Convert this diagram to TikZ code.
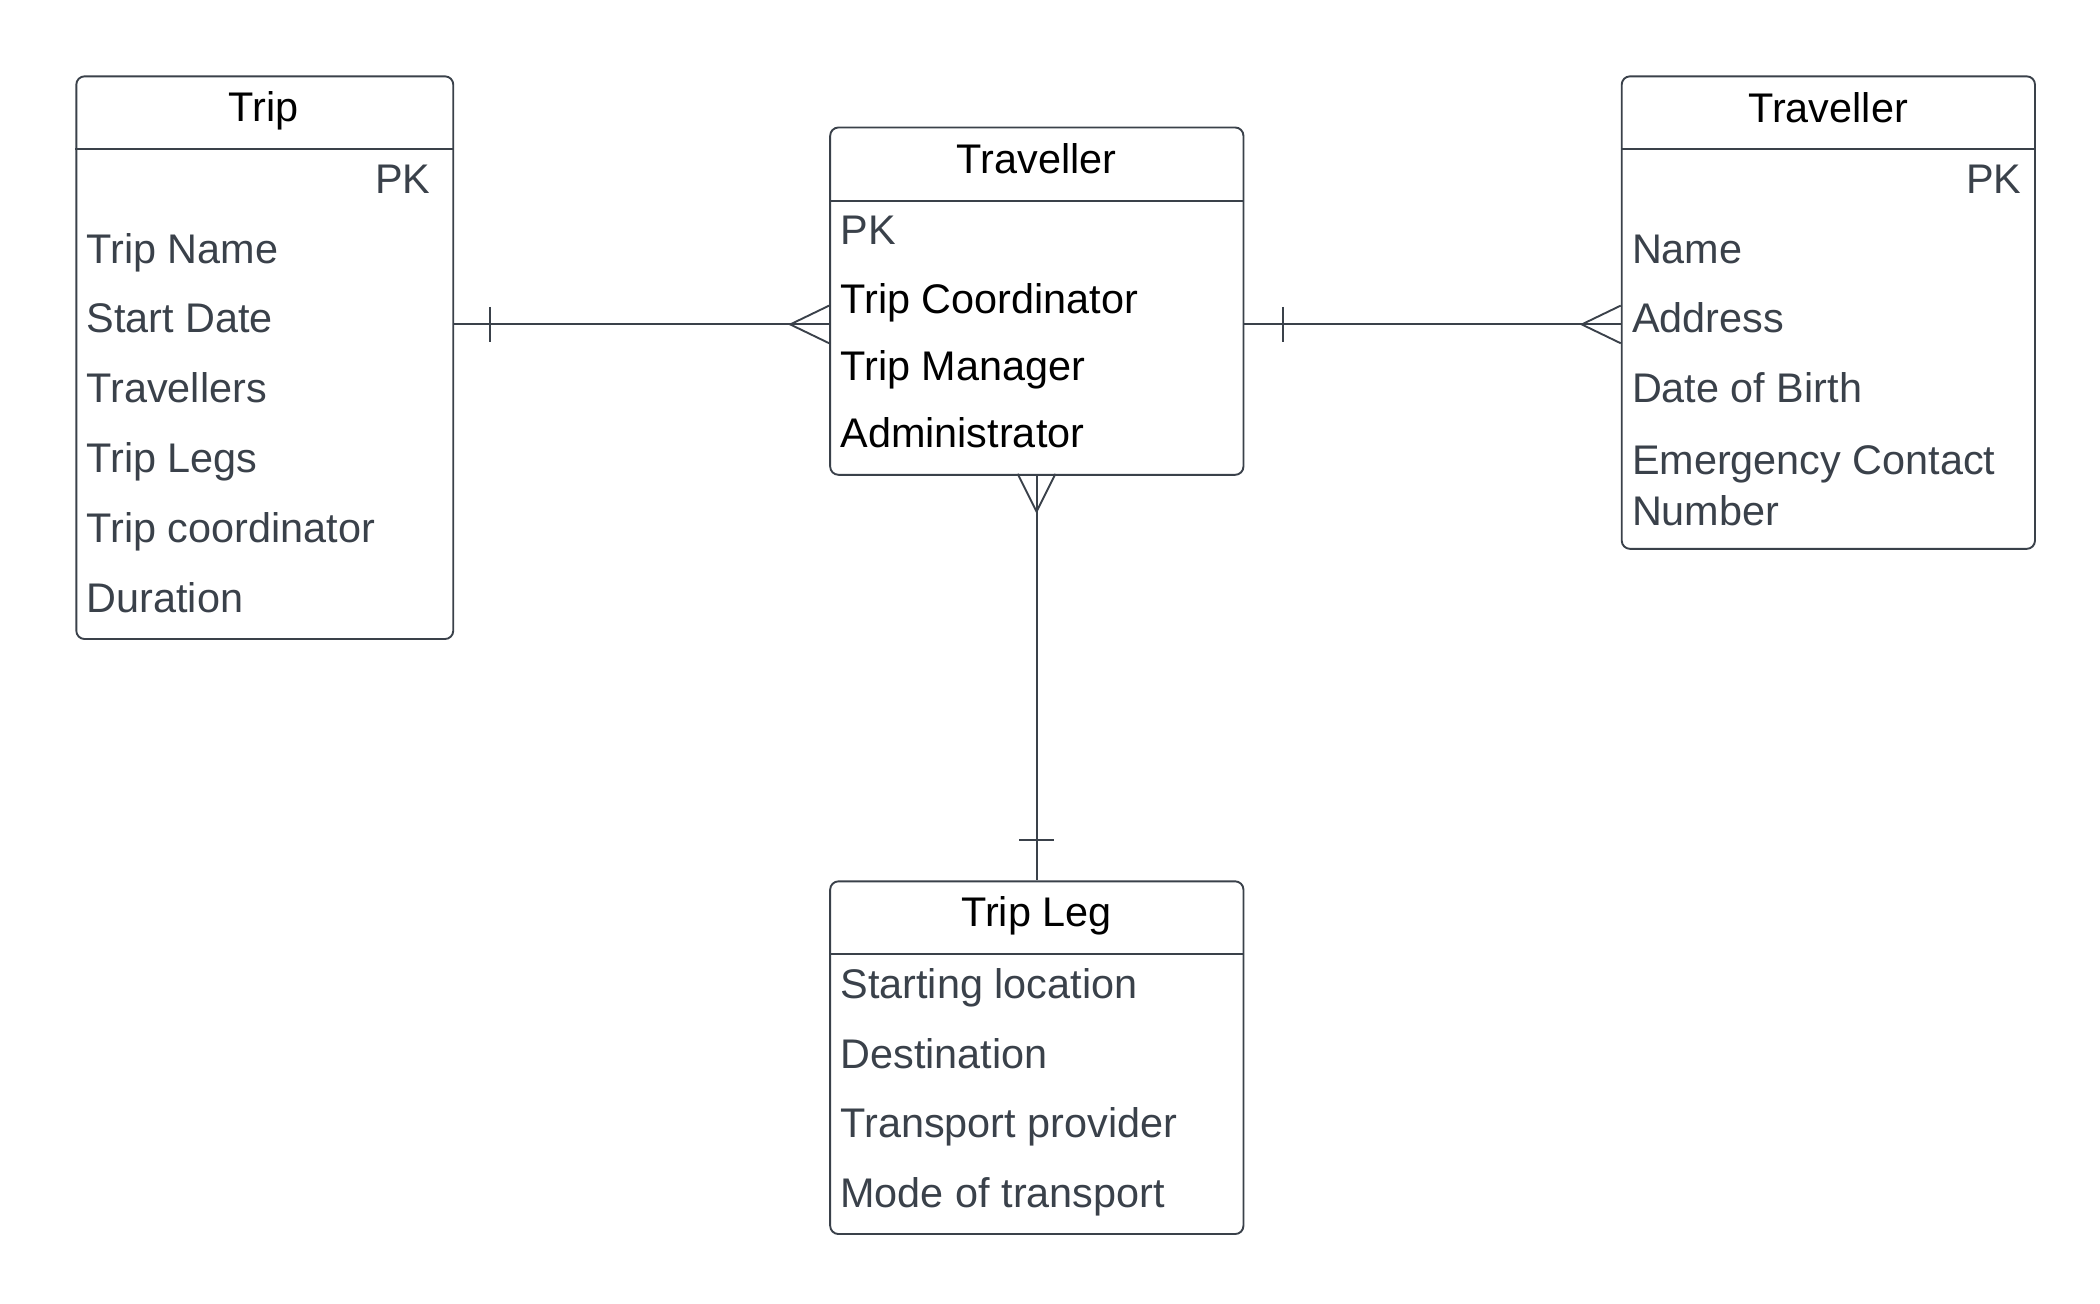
\documentclass[tikz,border=0pt]{standalone}
\usepackage{fontspec}
\setmainfont{Liberation Sans}
\usepackage{tikz}
\definecolor{lineclr}{HTML}{3A414A}
\definecolor{textclr}{HTML}{3A414A}

\begin{document}
\begin{tikzpicture}[scale=0.2]
\tikzstyle{every node}+=[inner sep=0pt, font=\fontsize{17.5}{21.4}\selectfont]
\tikzstyle{entity}=[draw=lineclr, line width=0.8pt, rounded corners=3.5pt, anchor=north west, minimum width=6.14cm]
\tikzstyle{field}=[text=textclr, anchor=mid west]
\tikzstyle{conn}=[draw=lineclr, line width=0.8pt]
\useasboundingbox (0,0) rectangle (156,-96.8);
% entity boxes
\node [entity, minimum width=5.6cm, minimum height=8.36cm] (trip) at (5.6,-5.6) {};
\node [entity, minimum height=5.16cm] (trav) at (61.6,-9.4) {};
\node [entity, minimum height=7.02cm] (travr) at (120.4,-5.6) {};
\node [entity, minimum height=5.24cm] (leg) at (61.6,-65.4) {};
\draw [conn] (trip.west |- 0,-11.1) -- (trip.east |- 0,-11.1);
\draw [conn] (trav.west |- 0,-14.9) -- (trav.east |- 0,-14.9);
\draw [conn] (travr.west |- 0,-11.1) -- (travr.east |- 0,-11.1);
\draw [conn] (leg.west |- 0,-70.9) -- (leg.east |- 0,-70.9);
% Trip
\node (tripT) at (19.6,-8.25) {Trip};
\node [field, anchor=mid east] (tripPK) at (32.0,-13.9) {PK};
\node [field] (trip1) at (6.4,-19.1) {Trip Name};
\node [field] (trip2) at (6.4,-24.2) {Start Date};
\node [field] (trip3) at (6.4,-29.4) {Travellers};
\node [field] (trip4) at (6.4,-34.6) {Trip Legs};
\node [field] (trip5) at (6.4,-39.8) {Trip coordinator};
\node [field] (trip6) at (6.4,-45.0) {Duration};
% Traveller (middle)
\node (travT) at (77.0,-11.8) {Traveller};
\node [field] (travPK) at (62.4,-17.7) {PK};
\node [field, text=black] (trav1) at (62.4,-22.8) {Trip Coordinator};
\node [field, text=black] (trav2) at (62.4,-27.8) {Trip Manager};
\node [field, text=black] (trav3) at (62.4,-32.8) {Administrator};
% Traveller (right)
\node (travrT) at (135.8,-8.0) {Traveller};
\node [field, anchor=mid east] (travrPK) at (150.2,-13.9) {PK};
\node [field] (travr1) at (121.2,-19.1) {Name};
\node [field] (travr2) at (121.2,-24.2) {Address};
\node [field] (travr3) at (121.2,-29.4) {Date of Birth};
\node [field, anchor=north west, align=left] (travr4) at (121.2,-33.1) {Emergency Contact\\Number};
% Trip Leg
\node (legT) at (77.0,-68.0) {Trip Leg};
\node [field] (leg1) at (62.4,-73.7) {Starting location};
\node [field] (leg2) at (62.4,-78.9) {Destination};
\node [field] (leg3) at (62.4,-84.0) {Transport provider};
\node [field] (leg4) at (62.4,-89.2) {Mode of transport};
% relations
\draw [conn] (trip.east |- 0,-24.1) -- (trav.west |- 0,-24.1);
\draw [conn] (36.4,-22.8) -- (36.4,-25.4);
\draw [conn] (trav.west |- 0,-22.7) -- (58.7,-24.1) -- (trav.west |- 0,-25.5);
\draw [conn] (trav.east |- 0,-24.1) -- (travr.west |- 0,-24.1);
\draw [conn] (95.3,-22.8) -- (95.3,-25.4);
\draw [conn] (travr.west |- 0,-22.7) -- (117.5,-24.1) -- (travr.west |- 0,-25.5);
\draw [conn] (trav.south) -- (leg.north);
\draw [conn] (75.6,-35.2) -- (77.0,-38.0) -- (78.4,-35.2);
\draw [conn] (75.7,-62.4) -- (78.3,-62.4);
\end{tikzpicture}
\end{document}
